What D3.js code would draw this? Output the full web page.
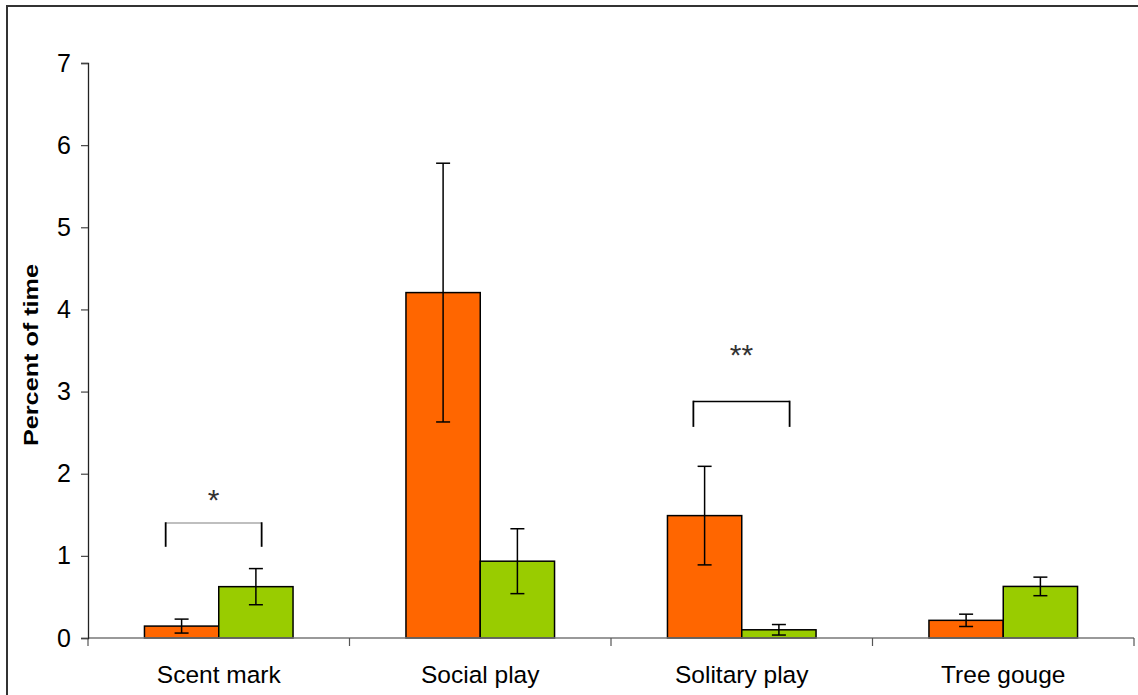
<!DOCTYPE html>
<html>
<head>
<meta charset="utf-8">
<script src="https://cdn.jsdelivr.net/npm/d3@7/dist/d3.min.js"></script>
<style>
  html, body { margin: 0; padding: 0; background: #fff; }
  svg { display: block; }
  text { font-family: "Liberation Sans", Arial, sans-serif; }
</style>
</head>
<body>
<svg id="chart" width="1138" height="695"></svg>
<script>
// Behaviour categories
const categories = ["Scent mark", "Social play", "Solitary play", "Tree gouge"];
// Two groups compared
const seriesNames = ["Group A", "Group B"];
const seriesColors = ["#FF6600", "#99CC00"];
// Mean percent of time per behaviour
const meansA = [0.145, 4.205, 1.49, 0.215];
const meansB = [0.625, 0.935, 0.10, 0.628];
// Standard errors
const errA = [0.085, 1.575, 0.60, 0.075];
const errB = [0.22, 0.395, 0.064, 0.113];
// Y axis ticks
const yTicks = [0, 1, 2, 3, 4, 5, 6, 7];
// Significance brackets: category, bracket top, leg bottom, label height, label
const sigCategories = ["Scent mark", "Solitary play"];
const sigTop = [1.40, 2.88];
const sigLeg = [1.11, 2.57];
const sigLabelY = [1.72, 3.48];
const sigLabels = ["*", "**"];

const svg = d3.select("#chart");

// outer frame
svg.append("rect")
  .attr("x", 7).attr("y", 6)
  .attr("width", 1200).attr("height", 800)
  .attr("fill", "none")
  .attr("stroke", "#333")
  .attr("stroke-width", 2);

const x0 = 88, x1 = 1134, yBase = 638, yTop = 63;

const x = d3.scaleBand().domain(categories).range([x0, x1]).padding(0);
const xs = d3.scaleBand().domain(seriesNames).range([0, x.bandwidth()])
  .paddingInner(0).paddingOuter(0.76);
const y = d3.scaleLinear().domain([0, 7]).range([yBase, yTop]);

// bars
const seriesData = [
  { name: seriesNames[0], color: seriesColors[0], means: meansA, errs: errA },
  { name: seriesNames[1], color: seriesColors[1], means: meansB, errs: errB }
];

const barG = svg.append("g");
seriesData.forEach(s => {
  categories.forEach((c, i) => {
    const bx = x(c) + xs(s.name);
    barG.append("rect")
      .attr("x", bx)
      .attr("y", y(s.means[i]))
      .attr("width", xs.bandwidth())
      .attr("height", y(0) - y(s.means[i]))
      .attr("fill", s.color)
      .attr("stroke", "#000")
      .attr("stroke-width", 1.5);
  });
});

// x axis line with category boundary ticks
svg.append("line")
  .attr("x1", x0).attr("x2", x1)
  .attr("y1", yBase).attr("y2", yBase)
  .attr("stroke", "#777").attr("stroke-width", 1.3);
const bounds = categories.map(c => x(c)).concat([x1]);
svg.append("g").selectAll("line").data(bounds).join("line")
  .attr("x1", d => d).attr("x2", d => d)
  .attr("y1", yBase).attr("y2", yBase + 8)
  .attr("stroke", "#555").attr("stroke-width", 1.2);

// category labels
svg.append("g").selectAll("text").data(categories).join("text")
  .attr("x", d => x(d) + x.bandwidth() / 2)
  .attr("y", 683)
  .attr("text-anchor", "middle")
  .attr("font-size", 24.5)
  .attr("fill", "#000")
  .text(d => d);

// error bars
const errG = svg.append("g");
seriesData.forEach(s => {
  categories.forEach((c, i) => {
    const cx = x(c) + xs(s.name) + xs.bandwidth() / 2;
    const hi = y(s.means[i] + s.errs[i]);
    const lo = y(s.means[i] - s.errs[i]);
    errG.append("line").attr("x1", cx).attr("x2", cx).attr("y1", hi).attr("y2", lo)
      .attr("stroke", "#000").attr("stroke-width", 1.5);
    [hi, lo].forEach(yy => {
      errG.append("line").attr("x1", cx - 7).attr("x2", cx + 7).attr("y1", yy).attr("y2", yy)
        .attr("stroke", "#000").attr("stroke-width", 1.5);
    });
  });
});

// y axis
const yAxis = d3.axisLeft(y).tickValues(yTicks).tickSize(7).tickPadding(10).tickFormat(d3.format("d"));
const yg = svg.append("g").attr("transform", `translate(${x0},0)`).call(yAxis);
yg.select(".domain").attr("stroke", "#222").attr("stroke-width", 1.3);
yg.selectAll(".tick line").attr("stroke", "#444").attr("stroke-width", 1.2);
yg.selectAll(".tick text")
  .attr("font-family", "Liberation Sans, Arial, sans-serif")
  .attr("font-size", 25).attr("fill", "#000");

// y axis title
svg.append("text")
  .attr("transform", `translate(38,355) rotate(-90)`)
  .attr("text-anchor", "middle")
  .attr("font-size", 20)
  .attr("font-weight", "bold")
  .attr("textLength", 182)
  .attr("lengthAdjust", "spacingAndGlyphs")
  .text("Percent of time");

// significance brackets
const legFrac = [[0.297, 0.664], [0.315, 0.683]];
const barColors = ["#aaa", "#000"];
sigCategories.forEach((c, k) => {
  const xl = x(c) + x.bandwidth() * legFrac[k][0];
  const xr = x(c) + x.bandwidth() * legFrac[k][1];
  const g = svg.append("g");
  g.append("line").attr("x1", xl).attr("x2", xr)
    .attr("y1", y(sigTop[k])).attr("y2", y(sigTop[k]))
    .attr("stroke", barColors[k]).attr("stroke-width", 1.5);
  [xl, xr].forEach(xx => {
    g.append("line").attr("x1", xx).attr("x2", xx)
      .attr("y1", y(sigTop[k]) - 0.75).attr("y2", y(sigLeg[k]))
      .attr("stroke", "#000").attr("stroke-width", 1.8);
  });
  g.append("text")
    .attr("x", (xl + xr) / 2)
    .attr("y", y(sigLabelY[k]) + 13)
    .attr("text-anchor", "middle")
    .attr("font-family", "Liberation Serif, Times New Roman, serif")
    .attr("font-size", 30)
    .attr("fill", "#333")
    .text(sigLabels[k]);
});
</script>
</body>
</html>
